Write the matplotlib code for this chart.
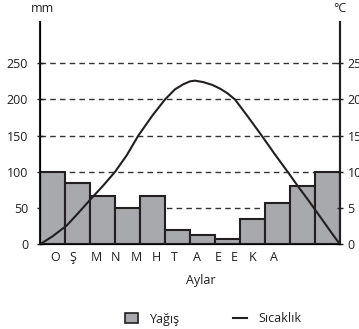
import matplotlib
matplotlib.use("Agg")
import matplotlib.pyplot as plt
from matplotlib.patches import Patch
from matplotlib.lines import Line2D

plt.rcParams['font.family'] = ['Open Sans', 'DejaVu Sans']

months = ["O", "Ş", "M", "N", "M", "H", "T", "A", "E", "E", "K", "A"]
month_label_pos = [0.6, 1.31, 2.27, 3.0, 3.84, 4.64, 5.36, 6.27, 7.11, 7.76, 8.51, 9.36]
precip = [100, 85, 67, 50, 67, 20, 13, 7, 35, 57, 80, 100]

temp_x = [0, 0.5, 1.07, 1.5, 2.07, 2.5, 3.0, 3.47, 3.93, 4.5, 5.0, 5.4, 5.73, 6.0, 6.2,
          6.53, 6.9, 7.2, 7.5, 7.8, 8.3, 8.87, 9.4, 9.93, 10.3, 10.73, 11.33, 11.7, 12]
temp_y = [0, 1.1, 2.6, 4.2, 6.4, 8.0, 10.0, 12.3, 15.0, 17.8, 20.0, 21.4, 22.1, 22.5, 22.6,
          22.4, 22.0, 21.5, 20.85, 20.0, 17.7, 15.0, 12.4, 9.9, 8.1, 6.1, 3.2, 1.4, 0]

mm_ticks = [0, 50, 100, 150, 200, 250]
c_ticks = [0, 5, 10, 15, 20, 25]

W, H = 359, 329
fig = plt.figure(figsize=(W / 100, H / 100), dpi=100)
ax = fig.add_axes([40 / W, (H - 244.3) / H, 300 / W, 222.3 / H])
ax.set_xlim(0, 12)
ax.set_ylim(0, 307)

ax.grid(axis='y', linestyle=(0, (4, 3)), color='#333333', lw=1)
ax.set_axisbelow(True)

xs = [i + 0.5 for i in range(len(precip))]
ax.bar(xs, precip, width=1.0, color='#a7a9ac', edgecolor='#231f20', lw=1.5, zorder=2)

ax.set_yticks(mm_ticks)
ax.set_yticklabels([str(t) for t in mm_ticks], fontsize=9, color='#231f20')
ax.tick_params(axis='y', direction='inout', length=5, width=1, pad=6, colors='#231f20')
ax.set_xticks(month_label_pos)
ax.set_xticklabels(months, fontsize=9, color='#231f20')
ax.tick_params(axis='x', length=0, pad=5)

ax.spines['top'].set_visible(False)
for s in ['left', 'right', 'bottom']:
    ax.spines[s].set_linewidth(1.5)
    ax.spines[s].set_color('#231f20')

ax2 = ax.twinx()
ax2.set_ylim(0, 30.7)
ax2.plot(temp_x, temp_y, color='#231f20', lw=1.5, zorder=3, solid_joinstyle='round')
ax2.set_yticks(c_ticks)
ax2.set_yticklabels([str(t) for t in c_ticks], fontsize=9, color='#231f20')
ax2.tick_params(axis='y', direction='inout', length=5, width=1, pad=3, colors='#231f20')
ax2.spines['top'].set_visible(False)
ax2.spines['right'].set_linewidth(1.5)
ax2.spines['right'].set_color('#231f20')

fig.text(42 / W, 1 - 9 / H, "mm", ha='center', va='center', fontsize=9, color='#231f20')
fig.text(339.5 / W, 1 - 9 / H, "°C", ha='center', va='center', fontsize=9, color='#231f20')
fig.text(200.7 / W, 1 - 280.7 / H, "Aylar", ha='center', va='center', fontsize=9, color='#231f20')

handles = [Patch(facecolor='#a7a9ac', edgecolor='#231f20', lw=1.2),
           Line2D([0], [0], color='#231f20', lw=1.5)]
fig.legend(handles, ["Yağış", "Sıcaklık"], loc='center', bbox_to_anchor=(213 / W, 1 - 319 / H),
           ncol=2, frameon=False, fontsize=9, handlelength=1.1, handleheight=0.8,
           columnspacing=4.3, handletextpad=0.9, labelcolor='#231f20')

fig.savefig("out.png", dpi=100)
